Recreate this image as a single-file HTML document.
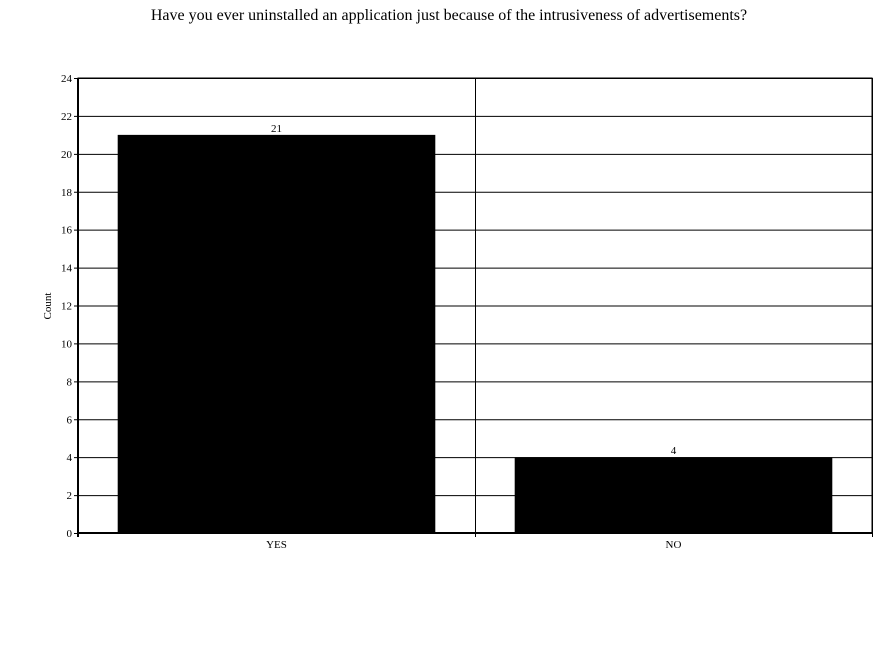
<!DOCTYPE html>
<html><head><meta charset="utf-8"><style>
body{margin:0;background:#fff;}
svg text{font-family:"Liberation Serif",serif;fill:#000;}
</style></head><body>
<svg width="884" height="650" xmlns="http://www.w3.org/2000/svg">
<text x="449" y="20" font-size="16" text-anchor="middle">Have you ever uninstalled an application just because of the intrusiveness of advertisements?</text>
<text transform="translate(51,306) rotate(-90)" font-size="11" text-anchor="middle">Count</text>
<g id="grid"></g><g id="bars"></g><g id="axes"></g>
</svg>
<script>
const categories=["YES","NO"];
const counts=[21,4];
const yTicks=[0,2,4,6,8,10,12,14,16,18,20,22,24];
const X0=78,X1=872,Y0=533,Y1=78,YMAX=24;
const NS="http://www.w3.org/2000/svg";
function y(v){return Y0-(v/YMAX)*(Y0-Y1);}
const bw=(X1-X0)/categories.length;
function xc(i){return X0+bw*(i+0.5);}
function mk(tag,attrs,parent){const e=document.createElementNS(NS,tag);for(const k in attrs)e.setAttribute(k,attrs[k]);parent.appendChild(e);return e;}
const grid=document.getElementById('grid'),bars=document.getElementById('bars'),axes=document.getElementById('axes');
mk('rect',{x:X0,y:Y1,width:X1-X0,height:Y0-Y1,fill:'none',stroke:'#000','stroke-width':1},grid);
yTicks.forEach(t=>{
 const l=mk('line',{x1:74,x2:X1,y1:y(t)+0.5,y2:y(t)+0.5,stroke:'#000','stroke-width':1},grid);
 
 
 const tx=mk('text',{x:72,y:y(t)+4,'font-size':11,'text-anchor':'end'},axes);
 tx.textContent=t;
 
 
});
for(let i=1;i<=categories.length;i++){
 const l=mk('line',{x1:X0+bw*i+0.5,x2:X0+bw*i+0.5,y1:Y1,y2:Y0+4,stroke:'#000','stroke-width':1},grid);
 
 
}
categories.forEach((c,i)=>{
 const w=bw*0.8;
 const r=mk('rect',{x:xc(i)-w/2,y:y(counts[i]),width:w,height:Y0-y(counts[i]),fill:'#000'},bars);
 
 
 const v=mk('text',{x:xc(i),y:y(counts[i])-3,'font-size':11,'text-anchor':'middle'},bars);
 v.textContent=counts[i];
 
 
 const t=mk('text',{x:xc(i),y:Y0+15,'font-size':11,'text-anchor':'middle'},axes);
 t.textContent=c;
 
 
});
const ya=mk('line',{x1:X0,x2:X0,y1:Y1,y2:Y0+4,stroke:'#000','stroke-width':2},axes);


const xa=mk('line',{x1:X0,x2:X1,y1:Y0,y2:Y0,stroke:'#000','stroke-width':2},axes);


</script>
</body></html>
